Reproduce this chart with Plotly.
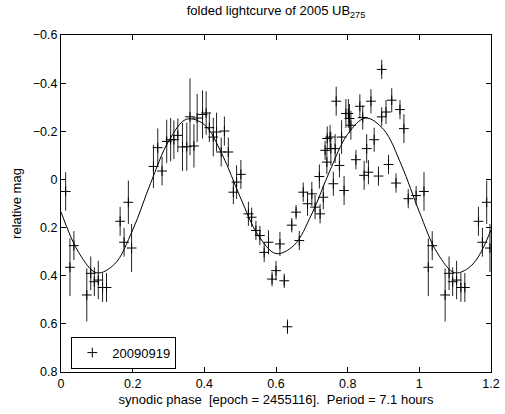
import plotly.graph_objects as go

# folded photometry (phase 0..1)
phase = [0.013, 0.025, 0.036, 0.072, 0.083, 0.093, 0.104, 0.116, 0.127, 0.165,
         0.176, 0.188, 0.197, 0.258, 0.270, 0.282, 0.295, 0.306, 0.315, 0.326,
         0.339, 0.351, 0.360, 0.371, 0.380, 0.395, 0.405, 0.414, 0.425, 0.434,
         0.447, 0.456, 0.467, 0.481, 0.490, 0.502, 0.523, 0.532, 0.544, 0.555,
         0.567, 0.579, 0.589, 0.600, 0.611, 0.623, 0.632, 0.644, 0.656, 0.665,
         0.676, 0.688, 0.700, 0.709, 0.721, 0.723, 0.732, 0.737, 0.743, 0.742,
         0.751, 0.753, 0.760, 0.765, 0.768, 0.777, 0.783, 0.790, 0.795, 0.802,
         0.805, 0.809, 0.823, 0.834, 0.842, 0.846, 0.853, 0.858, 0.865, 0.874,
         0.886, 0.895, 0.895, 0.907, 0.914, 0.923, 0.935, 0.946, 0.957, 0.969,
         0.991]
mag = [0.050, 0.365, 0.275, 0.480, 0.390, 0.425, 0.418, 0.449, 0.449, 0.174,
       0.261, 0.095, 0.285, -0.054, -0.132, -0.035, -0.158, -0.165, -0.165, -0.183,
       -0.135, -0.136, -0.260, -0.139, -0.255, -0.270, -0.276, -0.215, -0.176, -0.197,
       -0.114, -0.201, -0.114, 0.053, 0.011, -0.021, 0.143, 0.157, 0.212, 0.233,
       0.303, 0.261, 0.414, 0.379, 0.268, 0.421, 0.612, 0.190, 0.136, 0.254,
       0.053, 0.101, 0.060, 0.115, -0.012, 0.143, 0.074, -0.121, -0.170, -0.072,
       -0.176, -0.128, 0.018, -0.128, -0.325, -0.058, -0.176, 0.046, -0.274, -0.274,
       -0.253, -0.225, -0.082, -0.304, -0.257, -0.017, -0.128, -0.030, -0.325, -0.165,
       -0.014, -0.457, -0.260, -0.280, -0.062, -0.329, 0.015, -0.290, -0.211, 0.080,
       0.067]
err = [0.08, 0.12, 0.06, 0.11, 0.07, 0.06, 0.08, 0.06, 0.06, 0.06,
       0.06, 0.09, 0.10, 0.09, 0.08, 0.06, 0.09, 0.09, 0.08, 0.07,
       0.10, 0.10, 0.16, 0.09, 0.10, 0.10, 0.09, 0.06, 0.08, 0.08,
       0.06, 0.06, 0.06, 0.05, 0.07, 0.06, 0.05, 0.04, 0.04, 0.04,
       0.04, 0.05, 0.03, 0.04, 0.05, 0.03, 0.03, 0.03, 0.03, 0.04,
       0.04, 0.05, 0.05, 0.05, 0.05, 0.04, 0.05, 0.04, 0.05, 0.05,
       0.05, 0.07, 0.05, 0.06, 0.06, 0.05, 0.07, 0.06, 0.06, 0.06,
       0.06, 0.06, 0.04, 0.05, 0.05, 0.06, 0.06, 0.05, 0.05, 0.05,
       0.04, 0.04, 0.04, 0.05, 0.04, 0.05, 0.04, 0.04, 0.06, 0.04,
       0.04]

# fitted curve, sampled every 0.05 in phase
fit_phase = [round(0.05 * i, 2) for i in range(25)]
fit_mag = [0.135, 0.305, 0.388, 0.351, 0.210, 0.016, -0.158, -0.250, -0.228, -0.103,
           0.073, 0.231, 0.308, 0.274, 0.143, -0.035, -0.188, -0.255, -0.208, -0.060,
           0.135, 0.305, 0.388, 0.351, 0.210]

# repeat the first 0.2 of the phase after 1
x = phase + [p + 1 for p in phase if p < 0.2]
y = mag + [m for p, m in zip(phase, mag) if p < 0.2]
e = err + [d for p, d in zip(phase, err) if p < 0.2]

font = "Liberation Sans, Arial, sans-serif"

fig = go.Figure()
fig.add_trace(go.Scatter(
    x=x, y=y, mode="markers", name="20090919",
    marker=dict(symbol="cross-thin", size=7, color="black",
                line=dict(color="black", width=1)),
    error_y=dict(type="data", array=e, color="#222", thickness=1, width=0),
))
fig.add_trace(go.Scatter(
    x=fit_phase, y=fit_mag, mode="lines", showlegend=False,
    line=dict(color="black", width=1, shape="spline", smoothing=1.0),
))

axis = dict(showline=True, linecolor="black", linewidth=1, mirror="allticks",
            ticks="inside", ticklen=5, tickcolor="black", showgrid=False,
            zeroline=False, automargin=False, tickfont=dict(size=12.5, color="black"))

xtitle = "synodic phase\u00a0 [epoch = 2455116].\u00a0 Period = 7.1 hours"
fig.update_xaxes(range=[0, 1.2], dtick=0.2, tick0=0,
                 title=dict(text=xtitle, font=dict(size=13), standoff=4), **axis)
fig.update_yaxes(range=[0.8, -0.6], dtick=0.2, tick0=0,
                 title=dict(text="relative mag", font=dict(size=13), standoff=8), **axis)

fig.update_layout(
    width=505, height=414,
    margin=dict(l=61, r=14, t=35, b=42, autoexpand=False),
    paper_bgcolor="white", plot_bgcolor="white",
    font=dict(family=font, size=13, color="black"),
    title=dict(text="folded lightcurve of 2005 UB<sub>275</sub>", xref="paper", x=0.5,
               xanchor="center", y=0.985, yanchor="top", font=dict(size=13)),
    legend=dict(x=0.024, y=0.01, xanchor="left", yanchor="bottom",
                bordercolor="black", borderwidth=1, bgcolor="white",
                font=dict(size=13), itemwidth=30, entrywidth=112,
                tracegroupgap=0),
)

fig.write_html("out.html", config={"displayModeBar": False},
               post_script="document.body.style.margin='0';")
